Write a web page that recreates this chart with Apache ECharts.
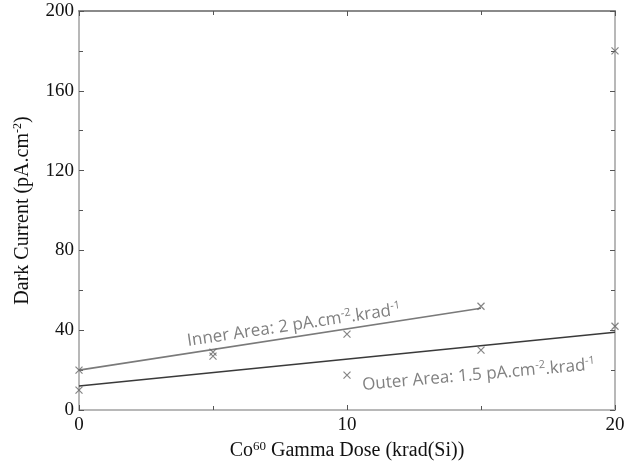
<!DOCTYPE html>
<html><head><meta charset="utf-8">
<script src="https://cdn.jsdelivr.net/npm/echarts@6/dist/echarts.min.js"></script>
<style>html,body{margin:0;padding:0;background:#fff}#c{width:625px;height:461px}</style>
</head><body><div id="c"></div>
<script>
// Data
const innerX = [0, 5, 10, 15];
const innerY = [20, 29, 38, 52];
const outerX = [0, 5, 10, 15, 20, 20];
const outerY = [10, 27, 17.5, 30, 42, 180];
const innerFit = [[0, 20], [15, 51]];
const outerFit = [[0, 12], [20, 39]];
const xTicks = [0, 10, 20];
const yTicks = [0, 40, 80, 120, 160, 200];
const innerLabel = {x: 4.1, y: 29.5, rot: 8.5};
const outerLabel = {x: 10.6, y: 7.5, rot: 5};

const chart = echarts.init(document.getElementById('c'));
const serif = '"Liberation Serif", "Times New Roman", serif';
const xMark = 'path://M0,0L10,10M10,0L0,10';
function axisCommon(lineColor) {
  return {
    axisLine: {show: true, onZero: false, lineStyle: {color: lineColor, width: 2}},
    axisTick: {show: true, inside: true, length: 5, lineStyle: {color: '#555', width: 1}},
    minorTick: {show: true, splitNumber: 2, length: 4, lineStyle: {color: '#555', width: 1}},
    splitLine: {show: false}
  };
}
const toPairs = (xs, ys) => xs.map((x, i) => [x, ys[i]]);
chart.setOption({
  animation: false,
  grid: {left: 79, right: 10, top: 11, bottom: 51, containLabel: false, outerBoundsMode: 'none'},
  xAxis: [
    Object.assign({type: 'value', min: 0, max: 20, interval: 10,
      name: '{n|Co}{s|60}{n| Gamma Dose (krad(Si))}', nameLocation: 'middle', nameGap: 30,
      nameTextStyle: {rich: {n: {fontFamily: serif, fontSize: 20, color: '#111'}, s: {fontFamily: serif, fontSize: 13, color: '#111', padding: [0,0,9,0]}}},
      axisLabel: {fontFamily: serif, fontSize: 19, color: '#111', margin: 6}}, axisCommon('#b8b8b8')),
    Object.assign({type: 'value', min: 0, max: 20, interval: 10, position: 'top',
      axisLabel: {show: false}}, axisCommon('#8a8a8a'))
  ],
  yAxis: [
    Object.assign({type: 'value', min: 0, max: 200, interval: 40,
      name: '{n|Dark Current (pA.cm}{s|-2}{n|)}', nameLocation: 'middle', nameGap: 46,
      nameTextStyle: {rich: {n: {fontFamily: serif, fontSize: 20, color: '#111'}, s: {fontFamily: serif, fontSize: 12, color: '#111', padding: [0,0,9,0]}}},
      axisLabel: {fontFamily: serif, fontSize: 19, color: '#111', margin: 5}}, axisCommon('#b8b8b8')),
    Object.assign({type: 'value', min: 0, max: 200, interval: 40, position: 'right',
      axisLabel: {show: false}}, axisCommon('#b8b8b8'))
  ],
  series: [
    {type: 'line', data: innerFit, symbol: 'none', lineStyle: {color: '#7a7a7a', width: 1.6}, z: 2},
    {type: 'line', data: outerFit, symbol: 'none', lineStyle: {color: '#3a3a3a', width: 1.6}, z: 2},
    {type: 'scatter', data: toPairs(innerX, innerY), symbol: xMark, symbolSize: 7,
      itemStyle: {color: 'none', borderColor: '#666', borderWidth: 1.2}, z: 3},
    {type: 'scatter', data: toPairs(outerX, outerY), symbol: xMark, symbolSize: 7,
      itemStyle: {color: 'none', borderColor: '#666', borderWidth: 1.2}, z: 3}
  ]
});
const sans = '"Open Sans", "Noto Sans", sans-serif';
function label(def, parts) {
  const p = chart.convertToPixel({xAxisIndex: 0, yAxisIndex: 0}, [def.x, def.y]);
  return {type: 'text', x: p[0], y: p[1], rotation: def.rot * Math.PI / 180, z: 10,
    style: {text: parts, fill: '#808080', font: '17px ' + sans, textVerticalAlign: 'bottom',
      rich: {n: {fontFamily: sans, fontSize: 17, fill: '#808080'}, s: {fontFamily: sans, fontSize: 11, fill: '#808080', padding: [0,0,9,0]}}}};
}
chart.setOption({graphic: [
  label(innerLabel, '{n|Inner Area: 2 pA.cm}{s|-2}{n|.krad}{s|-1}'),
  label(outerLabel, '{n|Outer Area: 1.5 pA.cm}{s|-2}{n|.krad}{s|-1}')
]});
</script></body></html>
